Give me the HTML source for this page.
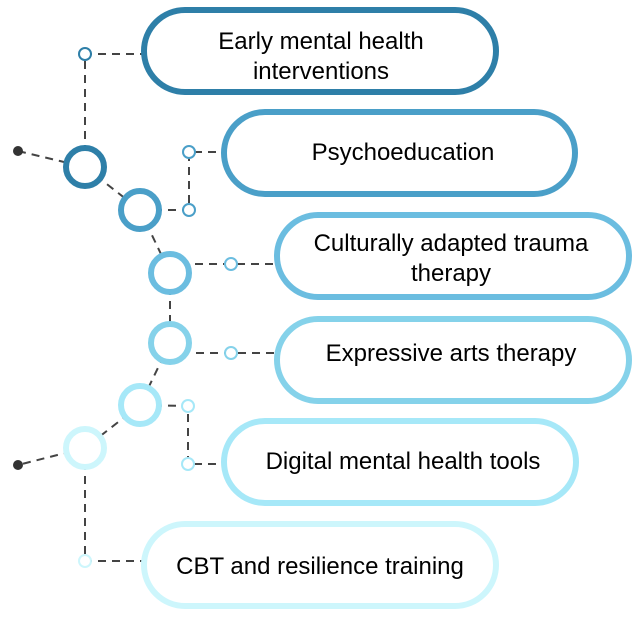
<!DOCTYPE html>
<html><head><meta charset="utf-8"><style>
html,body{margin:0;padding:0;background:#fff}
svg{display:block}
text{font-family:"Liberation Sans",sans-serif;font-size:24px;fill:#000;text-anchor:middle}
</style></head><body>
<svg width="635" height="625" viewBox="0 0 635 625" xmlns="http://www.w3.org/2000/svg">
<g stroke="#444" stroke-width="2" stroke-dasharray="8 6" fill="none">
<path d="M18 151 L85 167"/>
<path d="M85 167 L85 54 L142 54"/>
<path d="M85 167 L140 210"/>
<path d="M140 210 L189 210 L189 152 L222 152"/>
<path d="M140 210 L170 273"/>
<path d="M195 264 L275 264"/>
<path d="M170 273 L170 343"/>
<path d="M196 353 L275 353"/>
<path d="M170 343 L140 405"/>
<path d="M140 405 L188 406 L188 464 L222 464"/>
<path d="M140 405 L85 448"/>
<path d="M85 448 L18 465"/>
<path d="M85 448 L85 561 L142 561"/>
</g>
<circle cx="18" cy="151" r="5" fill="#333"/>
<circle cx="18" cy="465" r="5" fill="#333"/>
<g stroke-width="6" fill="#fff">
<circle cx="85" cy="167" r="19" stroke="#2e7fa8"/>
<circle cx="140" cy="210" r="19" stroke="#4a9fc8"/>
<circle cx="170" cy="273" r="19" stroke="#6bbde0"/>
<circle cx="170" cy="343" r="19" stroke="#85d2ea"/>
<circle cx="140" cy="405" r="19" stroke="#a6e8f8"/>
<circle cx="85" cy="448" r="19" stroke="#cdf6fc"/>
</g>
<g stroke-width="2" fill="#fff">
<circle cx="85" cy="54" r="6" stroke="#2e7fa8"/>
<circle cx="189" cy="152" r="6" stroke="#4a9fc8"/>
<circle cx="189" cy="210" r="6" stroke="#4a9fc8"/>
<circle cx="231" cy="264" r="6" stroke="#6bbde0"/>
<circle cx="231" cy="353" r="6" stroke="#85d2ea"/>
<circle cx="188" cy="406" r="6" stroke="#a6e8f8"/>
<circle cx="188" cy="464" r="6" stroke="#a6e8f8"/>
<circle cx="85" cy="561" r="6" stroke="#cdf6fc"/>
</g>
<g stroke-width="6" fill="#fff">
<rect x="144" y="10" width="352" height="82" rx="41" stroke="#2e7fa8"/>
<rect x="224" y="112" width="351" height="82" rx="41" stroke="#4a9fc8"/>
<rect x="277" y="215" width="352" height="82" rx="41" stroke="#6bbde0"/>
<rect x="277" y="319" width="352" height="82" rx="41" stroke="#85d2ea"/>
<rect x="224" y="421" width="352" height="82" rx="41" stroke="#a6e8f8"/>
<rect x="144" y="524" width="352" height="82" rx="41" stroke="#cdf6fc"/>
</g>
<text x="321" y="49">Early mental health</text>
<text x="321" y="79">interventions</text>
<text x="403" y="160">Psychoeducation</text>
<text x="451" y="251">Culturally adapted trauma</text>
<text x="451" y="281">therapy</text>
<text x="451" y="361">Expressive arts therapy</text>
<text x="403" y="469">Digital mental health tools</text>
<text x="320" y="574">CBT and resilience training</text>
</svg>
</body></html>
